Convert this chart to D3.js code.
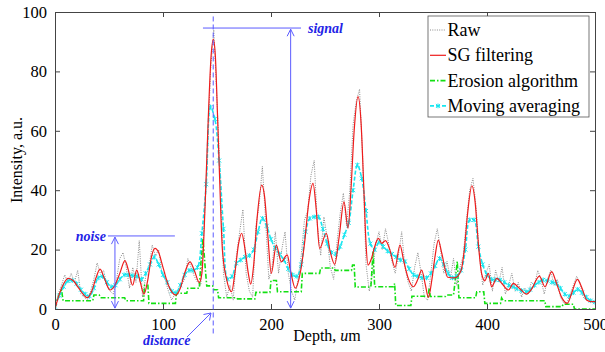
<!DOCTYPE html>
<html><head><meta charset="utf-8">
<script src="https://cdn.jsdelivr.net/npm/d3@7"></script>
<style>body{margin:0;background:#fff}svg{display:block}
svg text{font-family:"Liberation Serif","Tinos","Times New Roman",Times,"DejaVu Serif",serif;}</style>
</head><body>
<svg id="c" width="605" height="352"></svg>
<script>
// ---- data ----
const xTicks = [0, 100, 200, 300, 400, 500];
const yTicks = [0, 20, 40, 60, 80, 100];
const legendLabels = ["Raw", "SG filtering", "Erosion algorithm", "Moving averaging"];

// Raw signal, sampled every 3 um from 0
const rawStep = 3;
const rawValue = [
 0.5,5,8,11.5,9,12,9,13,5,4,
 3,6,10,15.5,12,13,8,6,5,10,
 17,19,14,7,14,9,23,4,11,14,
 21.5,18,20,12,10,6,3,5,6,8,
 10,17,14,11,9,8,28,50,80,94,
 70,45,12,4,8,3,18,26,33.5,12,
 6,4,28,35,48,30,10,14,26,12,
 20,26,12,6,3,10,18,30,33,45,
 50,28,18,31,24,14,10,22,32,39,
 28,40,62,70,74,50,15,6,12,22,
 26,20,27,22,16,12,18,26,14,9,
 6,14,19,12,4,3,12,22,27,20,
 12,16,10,17,8,14,18,30,40,44,
 34,18,8,12,15,6,13,9,14,5,
 8,12,6,9,4,7,5,9,8,13,
 10,5,10,13,8,10,4,2,2,5,
 8,11,9,4,3,3,2.5
];

// SG filtering
const sgDepth = [0,4,8,12.3,17,22,26,29.9,34,38,41.7,46,50.9,55.5,60,64.8,68,71.9,75.6,79,82.4,86,89,92.6,96,100,105,111.7,116,120,125,129,133.6,136,139,142,144.5,146.6,148.5,150.5,152.8,155,159,163.6,166.5,170,172.8,176,179,181.2,184,187,191.4,194,197,200.3,204.9,209.5,215,218,222.5,227,231,235,238.9,242,245,251.2,255,259,263,267.6,271.3,274,277,280.6,283.5,286,288,289.8,293,296,299.4,302.5,306,310,314.8,319.4,323,327.1,331.8,336,339.5,343,345.7,349,352,354.9,358,363.6,370,376,379,382,386,389,392,395,398,401.2,404.3,409,414,419.8,424.4,430,436.7,441,448.5,453.7,459.9,464,469,474.4,479,483.6,488,492.3,496,500];
const sgValue = [0,5,8.5,10.3,9.5,7,5,3.8,6,10.5,13.4,10,6.4,8,12,16.3,13,8,13.1,9,5,10,17,20.4,19,14,8,4.7,7,12,15.9,13,8.9,12,35,65,85,90.8,85,65,40,20,9.8,5.8,12,22,25.5,20,12,8.4,15,30,41.7,38,25,12,21.5,15.9,18.2,13,7,12,22,36,42.3,33,20.4,25.5,19,15,24,36.1,27.2,40,60,71.5,62,40,22,14.8,17,21,23.8,22.1,23,20,14,21.5,16,10.3,7.5,10,13.1,8,3.9,10,18,23.2,19,10.7,10.5,13,20,32,41.5,36,22,12,9.5,12,7.5,10.3,8.5,6.4,8.6,7,5,6.5,11.1,7.5,12.6,9,4,1.9,6,10,7,3,2.5,2.5];

// Erosion algorithm (polyline vertices)
const erosionDepth = [0,2,4,6,7.5,35,36,41,42,64.5,65.5,82,83,86,87,111.5,112.5,122,123,133.6,135,137,139,140.5,146,147,150.5,151.5,168,169,185,186,199,200,205,206,228,229,245,246,258.5,259.5,274.5,275.5,277,278,292.5,294.5,296,313.5,314.5,315.5,329.5,330.5,345.5,346.5,347.5,361.5,362.5,369,371,372.5,374,389.5,390.5,397,398,412.5,413.5,415,453.5,454.5,469.5,470.5,480,481,500];
const erosionValue = [0.5,3,5,6.4,2.8,2.8,4.7,4.7,3.8,3.8,2.8,2.8,8,8,1.9,1.9,5.3,5.3,7,7,15,23.8,14.2,7.8,7.8,6.5,6.5,3.8,3.8,3.4,3.4,5.6,5.6,9.6,9.6,5.8,5.8,12,12,13.8,13.8,13,13,14.8,14.8,7.4,7.4,19.3,7.5,7.5,8.6,1.2,1.2,4.3,4.3,7,4.2,4.2,4.7,4.7,11,16,3.8,3.8,5.8,5.8,1.9,1.9,3.7,2.8,2.8,0.8,0.8,1.6,1.6,0,0];

// Moving averaging, sampled every 4 um from 0
const maStep = 4;
const maValue = [
 0.8,4.5,7.5,9.5,9.6,8.5,6.5,5,4.3,7,
 10.5,11,9,7.5,8,10,11.5,11.5,11.2,11,
 10,12,15,17.5,15,11.5,9,6,5.5,8,
 11.5,13,13,14,25.5,42,68,64,50,27,
 10,11,15.4,16.5,17.5,18,20,26,30.5,28,
 23.5,20.5,18.5,16.5,13.5,11.5,11,15,26,30.5,
 31,31,27,22,19,18.5,21,25,29,40,
 48.5,44,33,22,20,22.5,21,19.5,18.5,17.5,
 16.5,16,13.5,11.5,11,10.5,10.5,12,14.5,17,
 15,12,10.5,11,13,20,30,30,21,15,
 11.5,10,9.8,9.8,9,8,7.5,6.8,6.2,5.8,
 6.5,8,9,9.8,9.5,9,8.6,7,5,4.3,
 5.5,6.6,5.5,4,2.8,2.3
];

// ---- chart ----
const svg = d3.select("#c");
const x = d3.scaleLinear().domain([0, 500]).range([55, 595]);
const y = d3.scaleLinear().domain([0, 100]).range([309, 12]);
const blue = "#5b5bff";
const textBlue = "#2323e6";

svg.append("defs").append("clipPath").attr("id","clip")
  .append("rect").attr("x",55).attr("y",12).attr("width",540).attr("height",297);

const rawPts = rawValue.map((v,i)=>[i*rawStep, v]);
const sgPts = sgDepth.map((d,i)=>[d, sgValue[i]]);
const erPts = erosionDepth.map((d,i)=>[d, erosionValue[i]]);
const maPts = maValue.map((v,i)=>[i*maStep, v]);

const g = svg.append("g").attr("clip-path","url(#clip)");
const lineLin = d3.line().x(d=>x(d[0])).y(d=>y(d[1]));

g.append("path").attr("d", lineLin(rawPts)).attr("fill","none")
  .attr("stroke","#8a8a8a").attr("stroke-width",1).attr("stroke-dasharray","1,1.3");

g.append("path").attr("d", lineLin(erPts)).attr("fill","none")
  .attr("stroke","#12e012").attr("stroke-width",1.6).attr("stroke-dasharray","5,2,1.5,2");

g.append("path").attr("d", d3.line().x(d=>x(d[0])).y(d=>y(d[1])).curve(d3.curveCatmullRom.alpha(0.5))(maPts))
  .attr("fill","none").attr("stroke","#18e6f0").attr("stroke-width",1.6).attr("stroke-dasharray","4,2");
g.selectAll(".mk").data(maPts).enter().append("path")
  .attr("transform", d=>`translate(${x(d[0])},${y(d[1])})`)
  .attr("d","M-2,-2L2,2M-2,2L2,-2M0,-2.4L0,2.4")
  .attr("stroke","#18e6f0").attr("stroke-width",1).attr("fill","none");

g.append("path").attr("d", d3.line().x(d=>x(d[0])).y(d=>y(d[1])).curve(d3.curveMonotoneX)(sgPts))
  .attr("fill","none").attr("stroke","#ee1c1c").attr("stroke-width",1.2);

// ---- axes (box with inner ticks) ----
const axisColor = "#444";
const axB = svg.append("g").attr("transform","translate(0,309)")
  .call(d3.axisBottom(x).tickValues(xTicks).tickSize(-5).tickPadding(9));
const axT = svg.append("g").attr("transform","translate(0,12)")
  .call(d3.axisTop(x).tickValues(xTicks).tickSize(-5).tickFormat(""));
const axL = svg.append("g").attr("transform","translate(55,0)")
  .call(d3.axisLeft(y).tickValues(yTicks).tickSize(-5).tickPadding(8));
const axR = svg.append("g").attr("transform","translate(595,0)")
  .call(d3.axisRight(y).tickValues(yTicks).tickSize(-5).tickFormat(""));
[axB,axT,axL,axR].forEach(a=>{
  a.attr("font-family", null);
  a.selectAll("path.domain").attr("stroke",axisColor).attr("stroke-width",1);
  a.selectAll(".tick line").attr("stroke",axisColor);
  a.selectAll("text").attr("font-size",16.5).attr("fill","#000");
});

svg.append("text").attr("x",327).attr("y",341).attr("text-anchor","middle")
  .attr("font-size",16)
  .html("Depth, <tspan font-style='italic'>u</tspan>m");
svg.append("text").attr("transform","translate(22,160) rotate(-90)").attr("text-anchor","middle")
  .attr("font-size",16).text("Intensity, a.u.");

// ---- annotations ----
const ann = svg.append("g").attr("stroke",blue).attr("fill","none").attr("stroke-width",1);
function arrowHead(px, py, dir){ // dir: 1 pointing up, -1 pointing down
  ann.append("path").attr("d",`M${px-3.5},${py+dir*7}L${px},${py}L${px+3.5},${py+dir*7}`);
}
// distance dashed line
ann.append("line").attr("x1",x(146.5)).attr("x2",x(146.5)).attr("y1",y(98.5)).attr("y2",y(-8.8))
  .attr("stroke-dasharray","5,3");
// signal
ann.append("line").attr("x1",x(137)).attr("x2",x(227.8)).attr("y1",y(94.6)).attr("y2",y(94.6));
ann.append("line").attr("x1",x(218.2)).attr("x2",x(218.2)).attr("y1",y(94.2)).attr("y2",y(0.3));
arrowHead(x(218.2), y(94.2), 1);
arrowHead(x(218.2), y(0.3), -1);
// noise
ann.append("line").attr("x1",x(49)).attr("x2",x(111)).attr("y1",y(24.6)).attr("y2",y(24.6));
ann.append("line").attr("x1",x(55.5)).attr("x2",x(55.5)).attr("y1",y(24.2)).attr("y2",y(0.3));
arrowHead(x(55.5), y(24.2), 1);
arrowHead(x(55.5), y(0.3), -1);
// distance arrow
ann.append("line").attr("x1",187).attr("y1",337).attr("x2",211).attr("y2",313);
ann.append("path").attr("d","M203.5,314.5L211,313L209.5,320.5");

const annText = (t, px, py, anchor)=> svg.append("text").attr("x",px).attr("y",py)
  .attr("text-anchor",anchor).attr("font-size",14)
  .attr("font-style","italic").attr("font-weight","bold").attr("fill",textBlue).text(t);
annText("signal", 308, 33, "start");
annText("noise", 106, 241, "end");
annText("distance", 143, 345, "start");

// ---- legend ----
const lg = svg.append("g");
lg.append("rect").attr("x",428).attr("y",16).attr("width",161).attr("height",101)
  .attr("fill","#fff").attr("stroke","#555").attr("stroke-width",0.8);
const lgStyles = [
  {c:"#8a8a8a", w:1, dash:"1,1.3"},
  {c:"#ee1c1c", w:1.2, dash:null},
  {c:"#12e012", w:1.6, dash:"5,2,1.5,2"},
  {c:"#18e6f0", w:1.6, dash:"4,2"}
];
legendLabels.forEach((lab,i)=>{
  const yy = 30 + i*25.3;
  const s = lgStyles[i];
  lg.append("line").attr("x1",430).attr("x2",446).attr("y1",yy).attr("y2",yy)
    .attr("stroke",s.c).attr("stroke-width",s.w).attr("stroke-dasharray",s.dash);
  if(i===3){
    lg.append("path").attr("transform",`translate(438,${yy})`)
      .attr("d","M-2,-2L2,2M-2,2L2,-2M0,-2.4L0,2.4").attr("stroke",s.c).attr("fill","none");
  }
  lg.append("text").attr("x",447.5).attr("y",yy+6)
    .attr("font-size",18).attr("fill","#000").text(lab);
});
</script>
</body></html>
